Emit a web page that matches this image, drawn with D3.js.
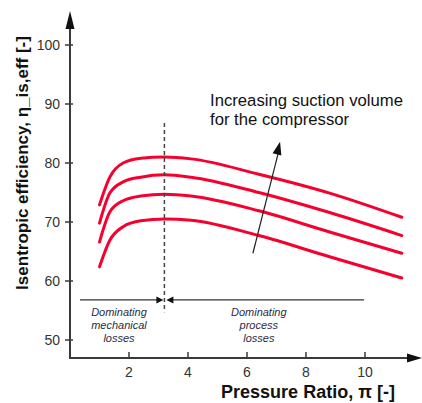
<!DOCTYPE html>
<html>
<head>
    <meta charset="utf-8">
    <script src="https://d3js.org/d3.v7.min.js"></script>
    <style>
        body { margin: 0; background: #fff; }
        text { font-family: Arial, "Liberation Sans", sans-serif; }
    </style>
</head>
<body>
<div id="chart"></div>
<script>
    // pressure ratio sample points (shared by all curves)
    var ratios = [1.0, 1.35, 1.8, 2.4, 3.2, 4.1, 6.4, 8.8, 11.25];
    // isentropic efficiency for 4 suction volumes, largest first
    var effTop    = [72.9, 77.6, 80.0, 80.8, 81.0, 80.7, 78.1, 74.9, 70.8];
    var effSecond = [69.8, 74.9, 76.8, 77.6, 78.0, 77.6, 75.0, 71.6, 67.7];
    var effThird  = [66.6, 71.7, 73.6, 74.4, 74.7, 74.4, 71.9, 68.3, 64.7];
    var effBottom = [62.4, 66.9, 69.2, 70.2, 70.5, 70.3, 67.7, 64.1, 60.5];
    var xTicks = [2, 4, 6, 8, 10];
    var yTicks = [50, 60, 70, 80, 90, 100];
    var boundary = 3.2; // pressure ratio where the loss regime changes

    var width = 422, height = 403;

    var svg = d3.select("#chart").append("svg")
        .attr("width", width)
        .attr("height", height);

    var x = d3.scaleLinear().domain([0, 10]).range([70, 365]);
    var y = d3.scaleLinear().domain([50, 100]).range([340, 45]);

    var axisColor = "#3a3a3a";
    var x0 = x(0), yBase = 358;

    // y axis line + arrow
    svg.append("line")
        .attr("x1", x0).attr("x2", x0)
        .attr("y1", yBase).attr("y2", 26)
        .attr("stroke", axisColor).attr("stroke-width", 2);
    svg.append("path")
        .attr("d", "M" + x0 + ",11 L" + (x0 - 4.5) + ",29 L" + (x0 + 4.5) + ",29 Z")
        .attr("fill", "#111");

    // x axis line + arrow
    svg.append("line")
        .attr("x1", x0 - 1).attr("x2", 410)
        .attr("y1", yBase).attr("y2", yBase)
        .attr("stroke", axisColor).attr("stroke-width", 2);
    svg.append("path")
        .attr("d", "M422," + yBase + " L407," + (yBase - 4.5) + " L407," + (yBase + 4.5) + " Z")
        .attr("fill", "#111");

    // y ticks
    var yt = svg.selectAll(".ytick").data(yTicks).enter().append("g")
        .attr("transform", function (d) { return "translate(0," + y(d) + ")"; });
    yt.append("line")
        .attr("x1", x0 - 5).attr("x2", x0 + 3)
        .attr("stroke", axisColor).attr("stroke-width", 1.5);
    yt.append("text")
        .attr("x", x0 - 10).attr("dy", "0.36em")
        .attr("text-anchor", "end")
        .style("font-size", "14px").style("fill", "#333")
        .text(function (d) { return d; });

    // x ticks
    var xt = svg.selectAll(".xtick").data(xTicks).enter().append("g")
        .attr("transform", function (d) { return "translate(" + x(d) + ",0)"; });
    xt.append("line")
        .attr("y1", yBase - 6).attr("y2", yBase + 1)
        .attr("stroke", axisColor).attr("stroke-width", 1.5);
    xt.append("text")
        .attr("y", 377)
        .attr("text-anchor", "middle")
        .style("font-size", "14px").style("fill", "#333")
        .text(function (d) { return d; });

    // axis titles
    svg.append("text")
        .attr("transform", "translate(28," + 163 + ") rotate(-90)")
        .attr("text-anchor", "middle")
        .style("font-size", "17px").style("font-weight", "bold").style("fill", "#111")
        .text("Isentropic efficiency, \u03b7_is,eff [-]");
    svg.append("text")
        .attr("x", 308).attr("y", 398)
        .attr("text-anchor", "middle")
        .style("font-size", "18px").style("font-weight", "bold").style("fill", "#111")
        .text("Pressure Ratio, \u03c0 [-]");

    // efficiency curves
    var line = d3.line()
        .x(function (d) { return x(d[0]); })
        .y(function (d) { return y(d[1]); })
        .curve(d3.curveMonotoneX);

    [effTop, effSecond, effThird, effBottom].forEach(function (s) {
        svg.append("path")
            .datum(ratios.map(function (r, i) { return [r, s[i]]; }))
            .attr("d", line)
            .attr("fill", "none")
            .attr("stroke", "#f5002f")
            .attr("stroke-width", 3)
            .attr("stroke-linecap", "round");
    });

    // dashed boundary
    svg.append("line")
        .attr("x1", x(boundary)).attr("x2", x(boundary))
        .attr("y1", y(86.8)).attr("y2", y(54.7))
        .attr("stroke", "#444").attr("stroke-width", 1.5)
        .attr("stroke-dasharray", "4,3");

    // regime arrows
    var ya = y(56.8), bx = x(boundary);
    svg.append("line")
        .attr("x1", x(0.34)).attr("x2", bx - 5)
        .attr("y1", ya).attr("y2", ya)
        .attr("stroke", "#333").attr("stroke-width", 1.3);
    svg.append("line")
        .attr("x1", bx + 5).attr("x2", x(9.97))
        .attr("y1", ya).attr("y2", ya)
        .attr("stroke", "#333").attr("stroke-width", 1.3);
    svg.append("path")
        .attr("d", "M" + (bx - 1) + "," + ya + " L" + (bx - 8) + "," + (ya - 3.5) + " L" + (bx - 8) + "," + (ya + 3.5) + " Z")
        .attr("fill", "#111");
    svg.append("path")
        .attr("d", "M" + (bx + 2) + "," + ya + " L" + (bx + 9) + "," + (ya - 3.5) + " L" + (bx + 9) + "," + (ya + 3.5) + " Z")
        .attr("fill", "#111");

    // regime labels
    function regimeLabel(cx, lines) {
        var t = svg.append("text")
            .attr("text-anchor", "middle")
            .style("font-size", "11px").style("font-style", "italic").style("fill", "#2b2b45");
        lines.forEach(function (l, i) {
            t.append("tspan").attr("x", x(cx)).attr("y", 316 + i * 13).text(l);
        });
    }
    regimeLabel(1.66, ["Dominating", "mechanical", "losses"]);
    regimeLabel(6.4, ["Dominating", "process", "losses"]);

    // suction volume arrow
    svg.append("line")
        .attr("x1", x(6.2)).attr("y1", y(64.7))
        .attr("x2", x(7.05)).attr("y2", y(81.5))
        .attr("stroke", "#222").attr("stroke-width", 1.2);
    var tipX = x(7.12), tipY = y(83.6);
    var ang = Math.atan2(y(83.6) - y(64.7), x(7.12) - x(6.2));
    svg.append("path")
        .attr("d", "M0,0 L-13,-4.5 L-13,4.5 Z")
        .attr("transform", "translate(" + tipX + "," + tipY + ") rotate(" + (ang * 180 / Math.PI) + ")")
        .attr("fill", "#111");

    var note = svg.append("text")
        .style("font-size", "16.7px").style("fill", "#111");
    note.append("tspan").attr("x", 210).attr("y", 106).text("Increasing suction volume");
    note.append("tspan").attr("x", 210).attr("y", 125).text("for the compressor");
</script>
</body>
</html>
